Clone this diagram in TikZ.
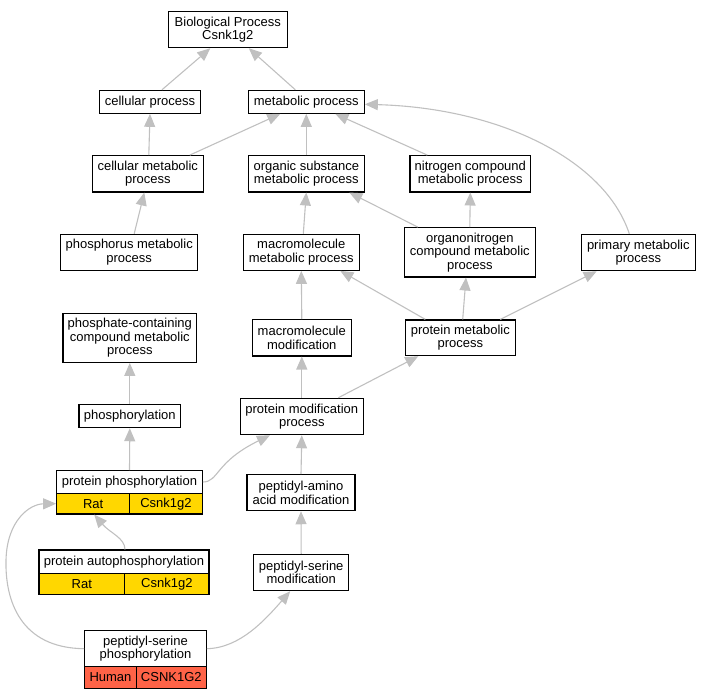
\documentclass[tikz,border=0pt]{standalone}
\usepackage{fontspec}
\setmainfont{Liberation Sans}
\usetikzlibrary{arrows.meta}
\definecolor{edgegray}{RGB}{192,192,192}
\definecolor{goldcell}{RGB}{255,215,0}
\definecolor{tomatocell}{RGB}{255,99,71}
\begin{document}
\begin{tikzpicture}[x=1pt,y=-1pt,
  termbox/.style={draw=black, line width=1.1pt, fill=white, align=center, inner sep=0pt,
    font=\fontsize{13}{13.4}\selectfont},
  cellbox/.style={termbox, fill=goldcell},
  humancell/.style={termbox, fill=tomatocell},
  edge/.style={draw=edgegray, line width=1.1pt, -{Triangle[length=13pt,width=11pt]}}]
\useasboundingbox (0,0) rectangle (710,699);
% nodes
\node[termbox, minimum width=119pt, minimum height=36pt] (BP) at (227.8,29.7) {Biological Process\\Csnk1g2};
\node[termbox, minimum width=101.7pt, minimum height=23pt] (cp) at (150,101.8) {cellular process};
\node[termbox, minimum width=116pt, minimum height=23pt] (mp) at (306.3,101.8) {metabolic process};
\node[termbox, minimum width=111pt, minimum height=36.3pt] (cmp) at (147.8,173.8) {cellular metabolic\\process};
\node[termbox, minimum width=116pt, minimum height=36.3pt] (osmp) at (306.3,173.8) {organic substance\\metabolic process};
\node[termbox, minimum width=120.7pt, minimum height=36.3pt] (ncmp) at (470.3,173.8) {nitrogen compound\\metabolic process};
\node[termbox, minimum width=137pt, minimum height=36pt] (phmp) at (129.2,252.3) {phosphorus metabolic\\process};
\node[termbox, minimum width=116pt, minimum height=36pt] (mmp) at (301.3,252.3) {macromolecule\\metabolic process};
\node[termbox, minimum width=131pt, minimum height=49.3pt] (onmp) at (469.8,252.3) {organonitrogen\\compound metabolic\\process};
\node[termbox, minimum width=114pt, minimum height=36.4pt] (pmp) at (638.3,252.5) {primary metabolic\\process};
\node[termbox, minimum width=133.7pt, minimum height=49.3pt] (pccmp) at (129.8,337.7) {phosphate-containing\\compound metabolic\\process};
\node[termbox, minimum width=99pt, minimum height=36.3pt] (mm) at (301.8,337.8) {macromolecule\\modification};
\node[termbox, minimum width=110pt, minimum height=35.7pt] (prmp) at (460.3,337.8) {protein metabolic\\process};
\node[termbox, minimum width=101.7pt, minimum height=23pt] (phos) at (129.8,416.2) {phosphorylation};
\node[termbox, minimum width=123pt, minimum height=36.4pt] (pmod) at (301.8,416.5) {protein modification\\process};
\node[termbox, minimum width=108pt, minimum height=36pt] (pamod) at (301,492.7) {peptidyl-amino\\acid modification};
\node[termbox, minimum width=95pt, minimum height=36.4pt] (psmod) at (301.2,572.5) {peptidyl-serine\\modification};
% protein phosphorylation table
\node[termbox, minimum width=145.6pt, minimum height=22.6pt] (pph) at (129.5,482) {protein phosphorylation};
\node[cellbox, minimum width=73pt, minimum height=20.7pt] (pprat) at (93.2,503.65) {Rat};
\node[cellbox, minimum width=72.6pt, minimum height=20.7pt] (ppgene) at (166,503.65) {Csnk1g2};
% protein autophosphorylation table
\node[termbox, minimum width=170pt, minimum height=23.3pt] (paph) at (124,561.65) {protein autophosphorylation};
\node[cellbox, minimum width=85.7pt, minimum height=21.4pt] (parat) at (81.85,584) {Rat};
\node[cellbox, minimum width=84.3pt, minimum height=21.4pt] (pagene) at (166.85,584) {Csnk1g2};
% peptidyl-serine phosphorylation table
\node[termbox, minimum width=121.6pt, minimum height=36pt] (psph) at (145.5,648.7) {peptidyl-serine\\phosphorylation};
\node[humancell, minimum width=51.6pt, minimum height=21.6pt] (pshuman) at (110.5,677.5) {Human};
\node[humancell, minimum width=70pt, minimum height=21.6pt] (psgene) at (171.3,677.5) {CSNK1G2};
% edges
\draw[edge] ([xshift=12pt]cp.north) -- ([xshift=-17.5pt]BP.south);
\draw[edge] ([xshift=-11pt]mp.north) -- ([xshift=21pt]BP.south);
\draw[edge] ([xshift=1pt]cmp.north) -- (cp.south);
\draw[edge] ([xshift=42pt]cmp.north) -- ([xshift=-26pt]mp.south);
\draw[edge] (osmp.north) -- (mp.south);
\draw[edge] ([xshift=-43pt]ncmp.north) -- ([xshift=29pt]mp.south);
\draw[edge] ([xshift=-9pt]pmp.north) .. controls (605,160) and (500,108) .. ([yshift=-2.5pt]mp.east);
\draw[edge] ([xshift=5pt]phmp.north) -- ([xshift=-3.5pt]cmp.south);
\draw[edge] ([xshift=2pt]mmp.north) -- (osmp.south);
\draw[edge] ([xshift=-52pt]onmp.north) -- ([xshift=43pt]osmp.south);
\draw[edge] (onmp.north) -- (ncmp.south);
\draw[edge] (mm.north) -- (mmp.south);
\draw[edge] ([xshift=-35pt]prmp.north) -- ([xshift=39pt]mmp.south);
\draw[edge] ([xshift=2.4pt]prmp.north) -- ([xshift=-3.8pt]onmp.south);
\draw[edge] ([xshift=40pt]prmp.north) -- ([xshift=-41.6pt]pmp.south);
\draw[edge] (phos.north) -- (pccmp.south);
\draw[edge] (pmod.north) -- (mm.south);
\draw[edge] ([xshift=36.5pt]pmod.north) -- ([xshift=-42pt]prmp.south);
\draw[edge] (pph.north) -- (phos.south);
\draw[edge] (pph.east) .. controls +(16,0) and (215,462) .. ([xshift=-31.8pt]pmod.south);
\draw[edge] (pamod.north) -- (pmod.south);
\draw[edge] ([xshift=1pt]paph.north) .. controls (125,538) and (110,533) .. ([xshift=1pt]pprat.south);
\draw[edge] (psph.west) .. controls (20,648) and (5,600) .. (6,560) .. controls (7,520) and (30,504) .. (pprat.west);
\draw[edge] (psph.east) .. controls (240,648) and (265,620) .. ([xshift=-11pt]psmod.south);
\draw[edge] (psmod.north) -- (pamod.south);
\end{tikzpicture}
\end{document}
